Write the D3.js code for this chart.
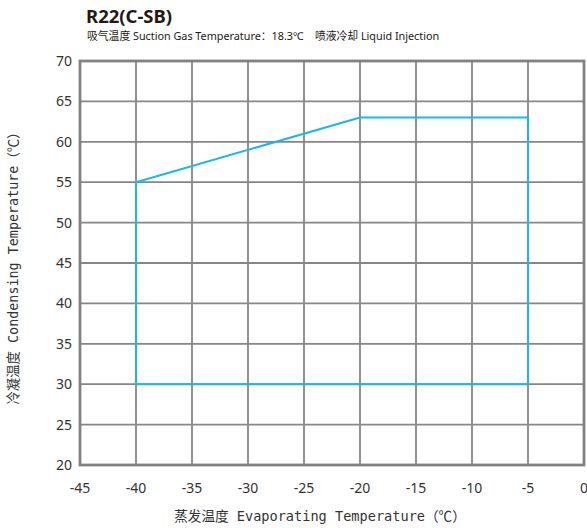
<!DOCTYPE html>
<html><head><meta charset="utf-8">
<script src="https://cdn.jsdelivr.net/npm/d3@7"></script>
<style>body{margin:0;background:#fff;} svg{display:block;}</style>
</head><body>
<script>
const envelopeX = [-40, -40, -20, -5, -5, -40];
const envelopeY = [30, 55, 63, 63, 30, 30];
const xTicks = [-45, -40, -35, -30, -25, -20, -15, -10, -5, 0];
const yTicks = [20, 25, 30, 35, 40, 45, 50, 55, 60, 65, 70];
const title = "R22(C-SB)";
const subtitle = "吸气温度 Suction Gas Temperature：18.3℃    喷液冷却 Liquid Injection";
const xTitle = "蒸发温度 Evaporating Temperature（℃）";
const yTitle = "冷凝温度 Condensing Temperature（℃）";

const W = 587, H = 528;
const m = {left: 80, right: 3, top: 61, bottom: 63};
const svg = d3.select("body").append("svg").attr("width", W).attr("height", H);
const x = d3.scaleLinear().domain([-45, 0]).range([m.left, W - m.right]);
const y = d3.scaleLinear().domain([20, 70]).range([H - m.bottom, m.top]);
const font = "'Noto Sans', 'Noto Sans CJK SC', sans-serif";

svg.append("text").attr("x", 86).attr("y", 23).attr("font-family", font)
  .attr("font-weight", "bold").attr("font-size", 18.5).attr("fill", "#231815").text(title);
svg.append("text").attr("x", 87).attr("y", 40).attr("font-family", font)
  .attr("font-size", 10.8).attr("fill", "#231815").attr("xml:space","preserve").text(subtitle);

const g = svg.append("g");
g.selectAll(".vg").data(xTicks).join("line")
  .attr("x1", d => x(d)).attr("x2", d => x(d)).attr("y1", y(20)).attr("y2", y(70))
  .attr("stroke", "#868686").attr("stroke-width", 1.8);
g.selectAll(".hg").data(yTicks).join("line")
  .attr("y1", d => y(d)).attr("y2", d => y(d)).attr("x1", x(-45)).attr("x2", x(0))
  .attr("stroke", "#868686").attr("stroke-width", 1.8);
g.append("rect").attr("x", x(-45)).attr("y", y(70)).attr("width", x(0) - x(-45)).attr("height", y(20) - y(70))
  .attr("fill", "none").attr("stroke", "#828282").attr("stroke-width", 2.8);

const line = d3.line().x(d => x(d[0])).y(d => y(d[1]));
svg.append("path").datum(envelopeX.map((v, i) => [v, envelopeY[i]]))
  .attr("d", line).attr("fill", "none").attr("stroke", "#18b8ec").attr("stroke-width", 2);

svg.selectAll(".yl").data(yTicks).join("text")
  .attr("x", 72).attr("y", d => y(d) + 5).attr("text-anchor", "end")
  .attr("font-family", font).attr("font-size", 14).attr("fill", "#333").text(d => d);
svg.selectAll(".xl").data(xTicks).join("text")
  .attr("x", d => x(d)).attr("y", 493).attr("text-anchor", "middle")
  .attr("font-family", font).attr("font-size", 14).attr("fill", "#333").text(d => d);

const mono = "'DejaVu Sans Mono', 'Noto Sans CJK SC', monospace";
svg.append("text").attr("x", 320).attr("y", 521).attr("text-anchor", "middle")
  .attr("font-family", mono).attr("font-size", 13.6).attr("fill", "#333").text(xTitle);
svg.append("text").attr("transform", `translate(18,${265}) rotate(-90)`).attr("text-anchor", "middle")
  .attr("font-family", mono).attr("font-size", 13.4).attr("fill", "#333").text(yTitle);
</script>
</body></html>
